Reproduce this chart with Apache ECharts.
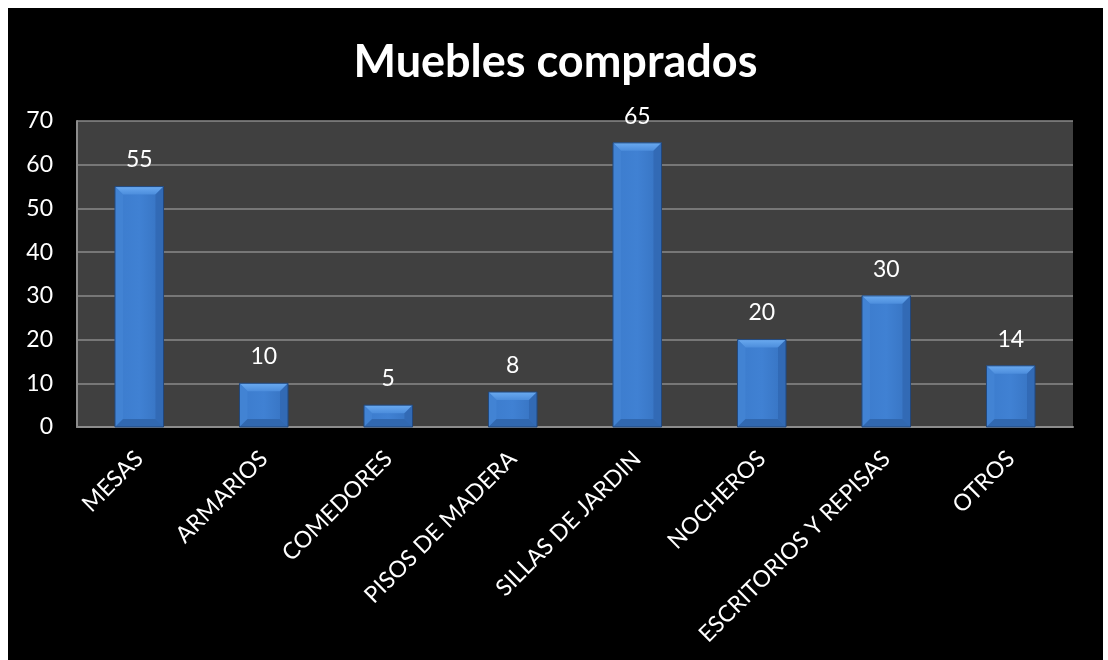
<!DOCTYPE html>
<html>
<head>
<meta charset="utf-8">
<script src="https://cdn.jsdelivr.net/npm/echarts@6/dist/echarts.min.js"></script>
<style>
  html, body { margin: 0; padding: 0; background: #ffffff; }
  #chart { position: absolute; left: 8px; top: 8px; width: 1095px; height: 652px; background: #000000; }
</style>
</head>
<body>
<div id="chart"></div>
<script>
// Furniture purchased, by type
const categories = ['MESAS', 'ARMARIOS', 'COMEDORES', 'PISOS DE MADERA', 'SILLAS DE JARDIN', 'NOCHEROS', 'ESCRITORIOS Y REPISAS', 'OTROS'];
const purchased = [55, 10, 5, 8, 65, 20, 30, 14];
const yTicks = { min: 0, max: 70, interval: 10 };

const FONT = 'Lato, "Open Sans", sans-serif';

// Bevelled bar: body, lighter top/left facets, darker right/bottom facets, value text above
function renderBevelBar(params, api) {
  const idx = api.value(0);
  const val = api.value(1);
  const top = api.coord([idx, val]);
  const base = api.coord([idx, 0]);
  const w = api.size([1, 0])[0] * 0.39;
  const x0 = top[0] - w / 2, x1 = top[0] + w / 2;
  const y0 = top[1], y1 = base[1];
  const b = Math.min(8, (y1 - y0) / 2);
  const children = [
    { type: 'rect', shape: { x: x0, y: y0, width: w, height: y1 - y0 },
      style: { fill: new echarts.graphic.LinearGradient(0, 0, 1, 0, [
        { offset: 0, color: '#3c7ccd' }, { offset: 0.5, color: '#4081d3' }, { offset: 1, color: '#3672c0' }]) } },
    // top facet
    { type: 'polygon', shape: { points: [[x0, y0], [x1, y0], [x1 - b, y0 + b], [x0 + b, y0 + b]] },
      style: { fill: new echarts.graphic.LinearGradient(0, 0, 0, 1, [
        { offset: 0, color: '#6aaaf0' }, { offset: 1, color: '#4c8ddc' }]) } },
    // left facet
    { type: 'polygon', shape: { points: [[x0, y0], [x0 + b, y0 + b], [x0 + b, y1 - b], [x0, y1]] },
      style: { fill: '#4485d4', opacity: 0.8 } },
    // right facet
    { type: 'polygon', shape: { points: [[x1, y0], [x1 - b, y0 + b], [x1 - b, y1 - b], [x1, y1]] },
      style: { fill: '#3168b2', opacity: 0.8 } },
    // bottom facet
    { type: 'polygon', shape: { points: [[x0, y1], [x0 + b, y1 - b], [x1 - b, y1 - b], [x1, y1]] },
      style: { fill: '#3168b0' } },
    // outline
    { type: 'rect', shape: { x: x0, y: y0, width: w, height: y1 - y0 },
      style: { fill: null, stroke: '#22487c', lineWidth: 1 } },
    { type: 'text', x: top[0], y: y0 - 15,
      style: { text: String(val), fill: '#ffffff', font: '23px ' + FONT, align: 'center', verticalAlign: 'bottom' } }
  ];
  return { type: 'group', children: children };
}

const chart = echarts.init(document.getElementById('chart'), null, { renderer: 'canvas' });
chart.setOption({
  backgroundColor: '#000000',
  animation: false,
  title: {
    text: 'Muebles comprados',
    left: 'center',
    top: 27,
    textStyle: { color: '#ffffff', fontSize: 45, fontWeight: 'bold', fontFamily: FONT }
  },
  grid: {
    left: 69, top: 113, right: 30, bottom: 233,
    show: true, backgroundColor: '#404040', borderWidth: 0
  },
  xAxis: {
    type: 'category',
    data: categories,
    axisLine: { show: true, lineStyle: { color: '#8c8c8c', width: 2 } },
    axisTick: { show: false },
    axisLabel: { color: '#ffffff', fontSize: 23, fontFamily: FONT, rotate: 45, margin: 28, interval: 0 }
  },
  yAxis: {
    type: 'value',
    min: yTicks.min, max: yTicks.max, interval: yTicks.interval,
    axisLine: { show: true, lineStyle: { color: '#8c8c8c', width: 2 } },
    axisTick: { show: false },
    splitLine: { lineStyle: { color: '#8a8a8a', width: 1.5 } },
    axisLabel: { color: '#ffffff', fontSize: 23, fontFamily: FONT, margin: 24 }
  },
  series: [{
    type: 'custom',
    renderItem: renderBevelBar,
    encode: { x: 0, y: 1 },
    data: purchased.map((v, i) => [i, v])
  }]
});
</script>
</body>
</html>
